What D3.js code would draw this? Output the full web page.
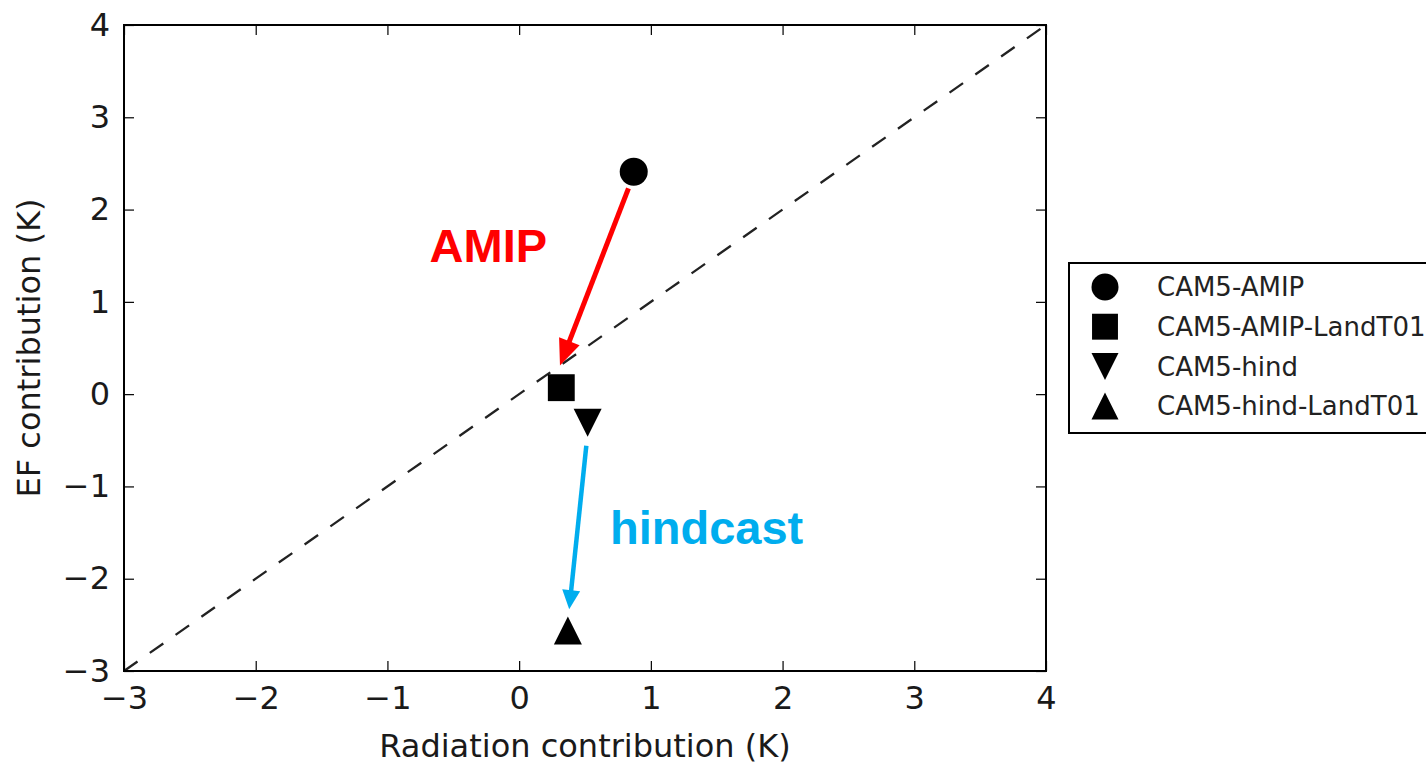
<!DOCTYPE html>
<html>
<head>
<meta charset="utf-8">
<script src="https://cdn.jsdelivr.net/npm/d3@7"></script>
<style>
  html, body { margin: 0; padding: 0; background: #fff; }
  svg { display: block; }
  text { font-family: "DejaVu Sans", sans-serif; fill: #1a1a1a; }
</style>
</head>
<body>
<svg id="chart" width="1426" height="764"></svg>
<script>
// Model experiments: radiation vs. evaporative-fraction contributions (K)
const seriesNames = ["CAM5-AMIP", "CAM5-AMIP-LandT01", "CAM5-hind", "CAM5-hind-LandT01"];
const markerShapes = ["circle", "square", "triangleDown", "triangleUp"];
const radiationValues = [0.87, 0.32, 0.52, 0.37];
const efValues = [2.41, 0.07, -0.31, -2.56];

// Axis ticks
const xTicks = [-3, -2, -1, 0, 1, 2, 3, 4];
const yTicks = [-3, -2, -1, 0, 1, 2, 3, 4];

// Annotated transitions between experiment pairs (data units)
const arrowFrom = [[0.83, 2.23], [0.51, -0.56]];
const arrowTo = [[0.31, 0.31], [0.38, -2.33]];
const arrowLabels = ["AMIP", "hindcast"];
const labelAnchors = [[-0.68, 1.43], [0.69, -1.62]];

const svg = d3.select("#chart");
const plotLeft = 124, plotRight = 1046, plotTop = 25, plotBottom = 671;

const x = d3.scaleLinear().domain([-3, 4]).range([plotLeft, plotRight]);
const y = d3.scaleLinear().domain([-3, 4]).range([plotBottom, plotTop]);
const tickFmt = d3.format("d");

// 1:1 reference line
svg.append("line")
  .attr("x1", x(-3)).attr("y1", y(-3))
  .attr("x2", x(4)).attr("y2", y(4))
  .attr("stroke", "#222").attr("stroke-width", 2.3)
  .attr("stroke-dasharray", "16.5,15");

// Axes with inward ticks on all four sides
function styleAxis(g, showLabels) {
  g.select(".domain").remove();
  g.selectAll(".tick line").attr("stroke", "#000").attr("stroke-width", 1.2);
  g.selectAll(".tick text")
    .style("font-size", "32px")
    .style("font-family", "'DejaVu Sans', sans-serif")
    .attr("fill", "#1a1a1a");
  if (!showLabels) g.selectAll(".tick text").remove();
}

svg.append("g").attr("transform", `translate(0,${plotBottom})`)
  .call(d3.axisBottom(x).tickValues(xTicks).tickFormat(tickFmt)
    .tickSizeInner(-10).tickSizeOuter(0).tickPadding(15))
  .call(g => styleAxis(g, true));
svg.append("g").attr("transform", `translate(0,${plotTop})`)
  .call(d3.axisTop(x).tickValues(xTicks).tickSizeInner(-10).tickSizeOuter(0))
  .call(g => styleAxis(g, false));
svg.append("g").attr("transform", `translate(${plotLeft},0)`)
  .call(d3.axisLeft(y).tickValues(yTicks).tickFormat(tickFmt)
    .tickSizeInner(-10).tickSizeOuter(0).tickPadding(14))
  .call(g => styleAxis(g, true));
svg.append("g").attr("transform", `translate(${plotRight},0)`)
  .call(d3.axisRight(y).tickValues(yTicks).tickSizeInner(-10).tickSizeOuter(0))
  .call(g => styleAxis(g, false));

// Frame
svg.append("rect")
  .attr("x", plotLeft).attr("y", plotTop)
  .attr("width", plotRight - plotLeft).attr("height", plotBottom - plotTop)
  .attr("fill", "none").attr("stroke", "#000").attr("stroke-width", 2);

// Axis titles
svg.append("text")
  .attr("x", (plotLeft + plotRight) / 2).attr("y", 757)
  .attr("text-anchor", "middle").style("font-size", "32px")
  .text("Radiation contribution (K)");
svg.append("text")
  .attr("transform", `translate(40,${(plotTop + plotBottom) / 2}) rotate(-90)`)
  .attr("text-anchor", "middle").style("font-size", "32px")
  .text("EF contribution (K)");

// Marker paths
function markerPath(shape, s) {
  const h = s / 2;
  if (shape === "circle") {
    return `M${h},0A${h},${h},0,1,1,${-h},0A${h},${h},0,1,1,${h},0Z`;
  }
  if (shape === "square") {
    const q = h * 0.96;
    return `M${-q},${-q}H${q}V${q}H${-q}Z`;
  }
  if (shape === "triangleDown") {
    return `M0,${h}L${-h},${-h}L${h},${-h}Z`;
  }
  return `M0,${-h}L${-h},${h}L${h},${h}Z`;
}

// Data points
const points = seriesNames.map((name, i) => ({
  name, shape: markerShapes[i], rx: radiationValues[i], ef: efValues[i]
}));

svg.append("g").selectAll("path")
  .data(points)
  .join("path")
  .attr("transform", d => `translate(${x(d.rx)},${y(d.ef)})`)
  .attr("d", d => markerPath(d.shape, 28))
  .attr("fill", "#000");

// Arrows
const arrowColors = ["#ff0000", "#00adee"];
const headLen = [26, 19], headWidth = [22, 18], shaftWidth = [5, 4.5];

arrowFrom.forEach((from, i) => {
  const x0 = x(from[0]), y0 = y(from[1]);
  const x1 = x(arrowTo[i][0]), y1 = y(arrowTo[i][1]);
  const dx = x1 - x0, dy = y1 - y0;
  const len = Math.hypot(dx, dy);
  const ux = dx / len, uy = dy / len;
  const bx = x1 - ux * headLen[i], by = y1 - uy * headLen[i];
  const px = -uy * headWidth[i] / 2, py = ux * headWidth[i] / 2;
  svg.append("line")
    .attr("x1", x0).attr("y1", y0)
    .attr("x2", bx + ux * 2).attr("y2", by + uy * 2)
    .attr("stroke", arrowColors[i]).attr("stroke-width", shaftWidth[i]);
  svg.append("path")
    .attr("d", `M${x1},${y1}L${bx + px},${by + py}L${bx - px},${by - py}Z`)
    .attr("fill", arrowColors[i]);
});

// Arrow labels
arrowLabels.forEach((label, i) => {
  svg.append("text")
    .attr("x", x(labelAnchors[i][0])).attr("y", y(labelAnchors[i][1]))
    .style("font-family", "'Liberation Sans', Arial, sans-serif")
    .style("font-weight", "bold").style("font-size", "47px")
    .style("fill", arrowColors[i])
    .text(label);
});

// Legend
const legend = svg.append("g");
legend.append("rect")
  .attr("x", 1069).attr("y", 263).attr("width", 420).attr("height", 170)
  .attr("fill", "#fff").attr("stroke", "#000").attr("stroke-width", 2);
const rows = legend.selectAll("g.row")
  .data(points)
  .join("g").attr("class", "row")
  .attr("transform", (d, i) => `translate(0,${287 + i * 39.7})`);
rows.append("path")
  .attr("transform", "translate(1105,0)")
  .attr("d", d => markerPath(d.shape, 27))
  .attr("fill", "#000");
rows.append("text")
  .attr("x", 1157).attr("dy", "0.36em")
  .style("font-size", "26px")
  .style("fill", "#222")
  .text(d => d.name);
</script>
</body>
</html>
